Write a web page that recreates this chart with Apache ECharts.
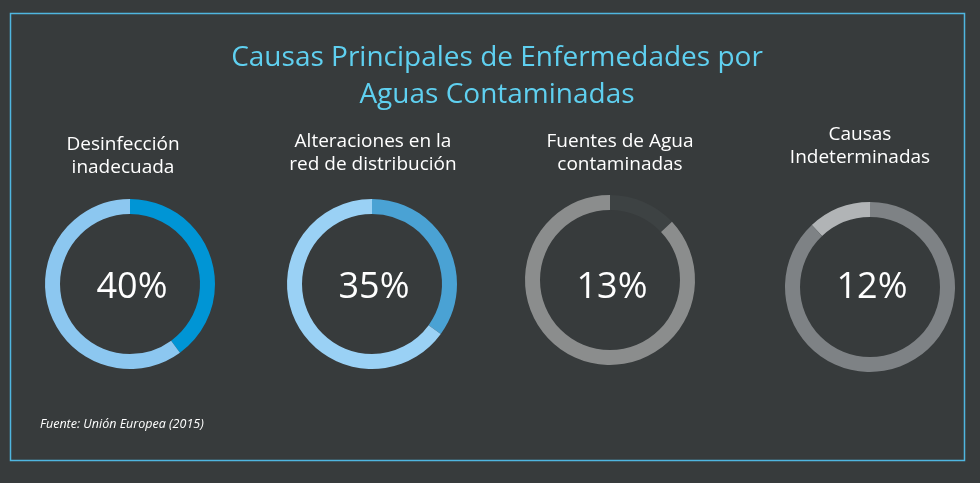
<!DOCTYPE html>
<html>
<head>
<meta charset="utf-8">
<script src="https://cdn.jsdelivr.net/npm/echarts@6/dist/echarts.min.js"></script>
<style>
  html, body { margin: 0; padding: 0; background: #373b3c; }
  #chart { width: 980px; height: 483px; }
</style>
</head>
<body>
<div id="chart"></div>
<script>
const causes = ['Desinfección\ninadecuada', 'Alteraciones en la\nred de distribución', 'Fuentes de Agua\ncontaminadas', 'Causas\nIndeterminadas']
const shares = [40, 35, 13, 12]
const titleText = 'Causas Principales de Enfermedades por\nAguas Contaminadas'
const sourceText = 'Fuente: Unión Europea (2015)'

// colours per donut: [highlighted part, rest]
const ringColors = [
  ['#0095d5', '#8cc7f0'],
  ['#4aa2d4', '#9ad1f5'],
  ['#3d4243', '#8b8d8d'],
  ['#b1b4b6', '#7e8285']
]
const centers = [[130, 284], [372, 284], [610, 280], [870, 287]]
const labelPos = [[123, 133], [373, 130], [620, 130], [860, 123]]
const clockwise = [true, true, true, false]

const font = '"Open Sans", "Noto Sans", sans-serif'

const chart = echarts.init(document.getElementById('chart'))

const series = shares.map((v, i) => ({
  type: 'pie',
  center: centers[i],
  radius: [70, 85],
  startAngle: 90,
  clockwise: clockwise[i],
  silent: true,
  label: { show: false },
  labelLine: { show: false },
  data: [
    { value: v, itemStyle: { color: ringColors[i][0] } },
    { value: 100 - v, itemStyle: { color: ringColors[i][1] } }
  ]
}))

const option = {
  backgroundColor: '#373b3c',
  graphic: [
    {
      type: 'rect',
      shape: { x: 10.5, y: 13.5, width: 954, height: 447 },
      style: { fill: 'none', stroke: '#4fb6e0', lineWidth: 1.5 }
    },
    {
      type: 'text',
      x: 497,
      y: 40,
      style: { text: titleText, fill: '#5fd0f0', font: '28px ' + font, align: 'center', lineHeight: 37 }
    },
    ...causes.map((c, i) => ({
      type: 'text',
      x: labelPos[i][0],
      y: labelPos[i][1],
      style: {
        text: c,
        fill: '#ffffff',
        font: '19px ' + font,
        align: 'center',
        lineHeight: 23
      }
    })),
    // percentage in the middle of each ring
    ...shares.map((v, i) => ({
      type: 'text',
      x: centers[i][0] + 2,
      y: 288,
      style: {
        text: v + '%',
        fill: '#ffffff',
        font: '36px ' + font,
        align: 'center',
        verticalAlign: 'middle'
      }
    })),
    {
      type: 'text',
      x: 40,
      y: 418,
      style: { text: sourceText, fill: '#ffffff', font: 'italic 12.5px ' + font }
    }
  ],
  series: series
}

chart.setOption(option)
</script>
</body>
</html>
